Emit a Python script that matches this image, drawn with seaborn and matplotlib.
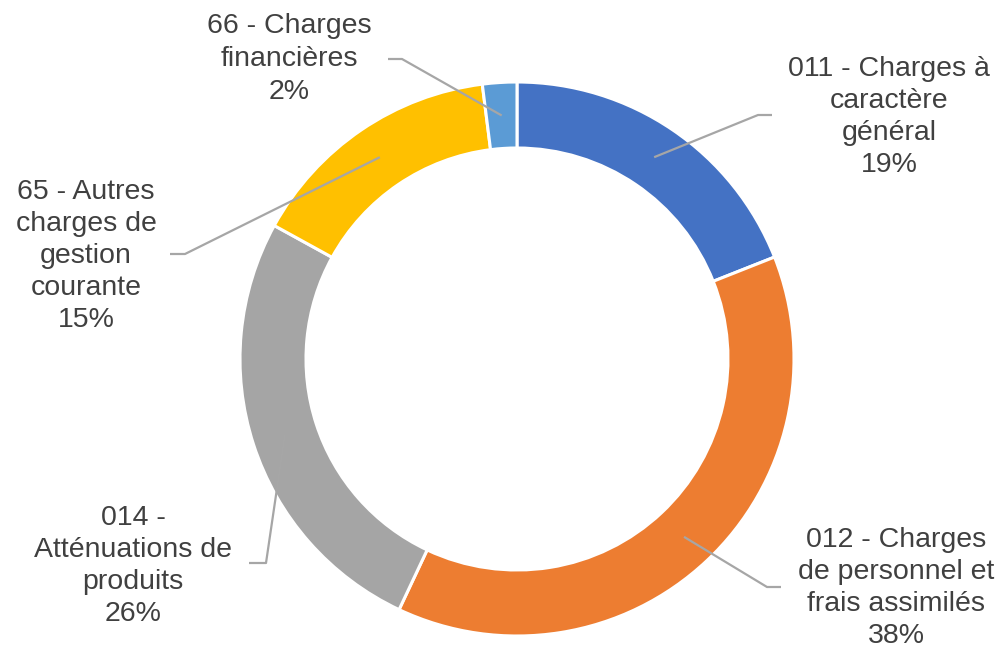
import numpy as np
import matplotlib
matplotlib.use("Agg")
import matplotlib.pyplot as plt
import seaborn as sns

sns.set_theme(style="white")
plt.rcParams['font.family'] = ['Liberation Sans', 'DejaVu Sans']

# ---- data ----
categories = ["011 - Charges à\ncaractère\ngénéral",
              "012 - Charges\nde personnel et\nfrais assimilés",
              "014 -\nAtténuations de\nproduits",
              "65 - Autres\ncharges de\ngestion\ncourante",
              "66 - Charges\nfinancières"]
values = [19, 38, 26, 15, 2]
colors = ["#4472C4", "#ED7D31", "#A5A5A5", "#FFC000", "#5B9BD5"]

# ---- layout (pixel coords) ----
W, H = 1003, 652
cx, cy = 517, 359
r_out = 277
ring = 66
label_pos = [(889, 117), (896, 588), (133, 566), (86, 256), (289, 59)]
spacings = [1.3, 1.3, 1.3, 1.3, 1.36]
elbows = [[(758, 115), (772, 115)],
          [(767, 587), (781, 587)],
          [(266, 563), (249, 563)],
          [(185, 254), (170, 254)],
          [(402, 59), (388, 59)]]

fig = plt.figure(figsize=(W / 100, H / 100), dpi=100)
ax = fig.add_axes([0, 0, 1, 1])
ax.set_xlim(0, W)
ax.set_ylim(H, 0)
ax.axis("off")

wedges, _ = ax.pie(values, colors=colors, center=(cx, cy), radius=r_out,
                   startangle=-90, counterclock=True,
                   wedgeprops=dict(width=ring, edgecolor="white", linewidth=2.2))
ax.set_xlim(0, W)
ax.set_ylim(H, 0)
ax.set_aspect("auto")

total = sum(values)
r_mid = r_out - ring / 2
for w, lab, v, pos, pts, ls in zip(wedges, categories, values, label_pos, elbows, spacings):
    ang = np.deg2rad((w.theta1 + w.theta2) / 2)
    ax0 = cx + r_mid * np.cos(ang)
    ay0 = cy + r_mid * np.sin(ang)
    xs = [ax0] + [p[0] for p in pts]
    ys = [ay0] + [p[1] for p in pts]
    ax.plot(xs, ys, color="#A6A6A6", lw=1.6, solid_capstyle="butt")
    ax.text(pos[0], pos[1], f"{lab}\n{round(100 * v / total)}%",
            ha="center", va="center", fontsize=20.5, color="#404040",
            linespacing=ls)

fig.savefig("out.png", dpi=100)
